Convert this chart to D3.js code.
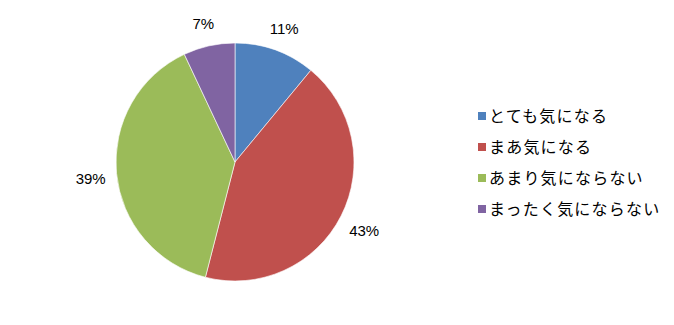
<!DOCTYPE html>
<html>
<head>
<meta charset="utf-8">
<script src="https://cdn.jsdelivr.net/npm/d3@7"></script>
<style>
  body { margin: 0; background: #fff; }
</style>
</head>
<body>
<div id="chart"></div>
<script>
// data
var categories = ["とても気になる", "まあ気になる", "あまり気にならない", "まったく気にならない"];
var values = [11, 43, 39, 7];
var colors = ["#4F81BD", "#C0504D", "#9BBB59", "#8064A2"];

var width = 674, height = 325;
var cx = 235, cy = 162, radius = 119;

var svg = d3.select("#chart")
  .append("svg")
    .attr("width", width)
    .attr("height", height);

var g = svg.append("g")
  .attr("transform", "translate(" + cx + "," + cy + ")");

var pie = d3.pie().sort(null).value(function(d) { return d; });
var arcs = pie(values);
var total = d3.sum(values);

var arc = d3.arc().innerRadius(0).outerRadius(radius);
var labelArc = d3.arc().innerRadius(145).outerRadius(145);

g.selectAll("path")
  .data(arcs)
  .enter()
  .append("path")
    .attr("d", arc)
    .attr("fill", function(d, i) { return colors[i]; })
    .attr("stroke", "#ffffff")
    .attr("stroke-width", 0.6);

g.selectAll("text.pct")
  .data(arcs)
  .enter()
  .append("text")
    .attr("class", "pct")
    .attr("transform", function(d) {
      var c = labelArc.centroid(d);
      // labels sit a little lower, like Excel's boxes
      return "translate(" + c[0] + "," + (c[1] + 3) + ")";
    })
    .attr("text-anchor", "middle")
    .attr("dy", "0.35em")
    .style("font-family", "'Liberation Sans', Arial, sans-serif")
    .style("font-size", "15px")
    .attr("fill", "#000")
    .text(function(d) { return Math.round(d.value / total * 100) + "%"; });

// legend
var legend = svg.append("g")
  .attr("transform", "translate(478,0)");

var rowY = [116, 147, 178, 209];

var item = legend.selectAll("g")
  .data(categories)
  .enter()
  .append("g")
    .attr("transform", function(d, i) { return "translate(0," + rowY[i] + ")"; });

item.append("rect")
  .attr("x", 0)
  .attr("y", -4)
  .attr("width", 8)
  .attr("height", 8)
  .attr("fill", function(d, i) { return colors[i]; });

item.append("text")
  .attr("x", 11)
  .attr("dy", "0.36em")
  .style("font-family", "'Noto Sans CJK JP', sans-serif")
  .style("font-size", "16px")
  .style("letter-spacing", "1.2px")
  .attr("fill", "#000")
  .text(function(d) { return d; });
</script>
</body>
</html>
